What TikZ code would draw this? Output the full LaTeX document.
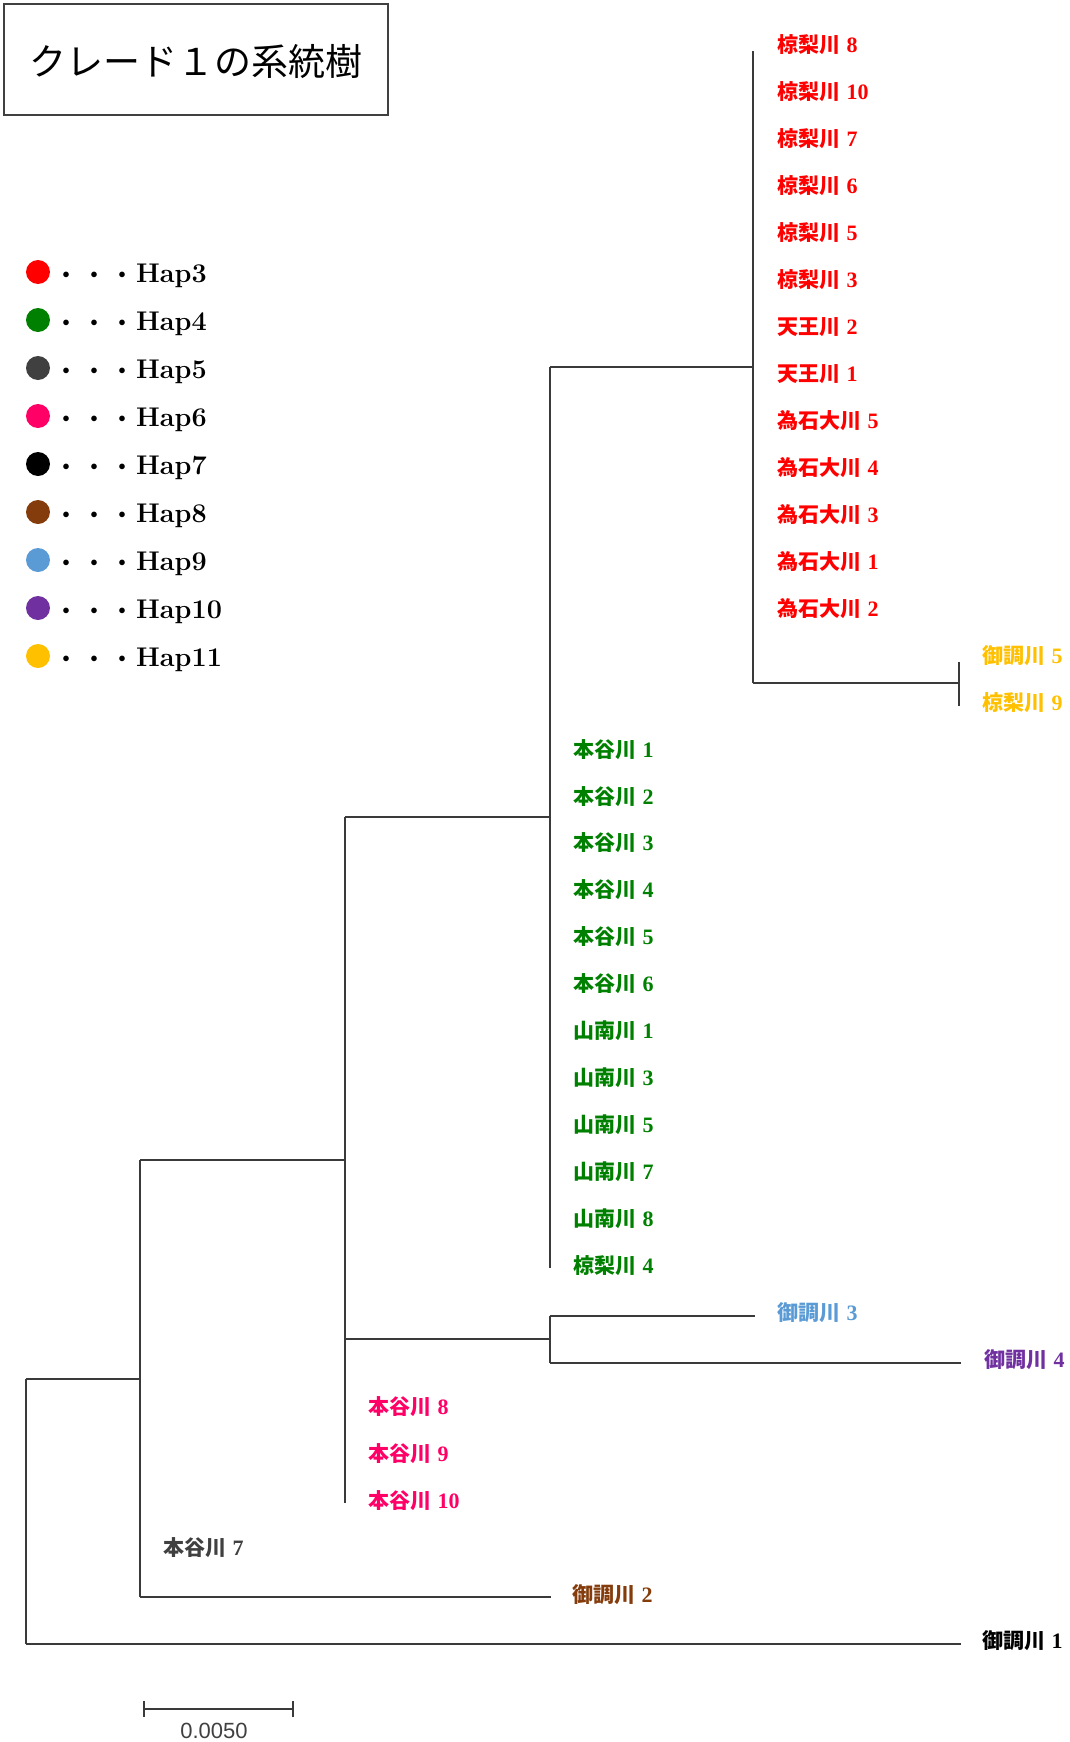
\documentclass[tikz,border=0pt]{standalone}
\usepackage{fontspec}
\newfontfamily\cjk{Noto Sans CJK JP}
\newfontfamily\sansf{Liberation Sans}
\newfontfamily\digf{Liberation Serif}
\definecolor{cRed}{HTML}{FF0000}
\definecolor{cGreen}{HTML}{008000}
\definecolor{cGray}{HTML}{404040}
\definecolor{cPink}{HTML}{FF0066}
\definecolor{cBrown}{HTML}{843C0C}
\definecolor{cBlue}{HTML}{5B9BD5}
\definecolor{cPurple}{HTML}{7030A0}
\definecolor{cGold}{HTML}{FFC000}
\definecolor{lineGray}{HTML}{3A3A3A}
% leaf label: color, name, x, index, river, number
\newcommand\leaf[6]{\node[leaflab,text=#1] (#2) at (#3,{53+46.94*#4}) {{\cjk\bfseries #5} {\digf\bfseries\fontsize{22}{22}\selectfont #6}};}
\newcommand\legdot{\makebox[28pt]{\cjk\fontsize{20}{20}\selectfont ・}}
% legend row: color, name, index, label
\newcommand\legrow[4]{%
  \fill[#1] (38,{272+48*#3}) circle (12);
  \node[leglab] (#2) at (52,{282+48*#3}) {\legdot\legdot\legdot #4};}
\begin{document}
\begin{tikzpicture}[x=1pt,y=-1pt,
  treeline/.style={draw=lineGray, line width=1.6pt},
  leaflab/.style={anchor=base west, inner sep=0pt, font=\fontsize{21}{21}\selectfont},
  leglab/.style={anchor=base west, inner sep=0pt, font=\fontsize{27}{27}\selectfont\bfseries}]
\useasboundingbox (0,0) rectangle (1070,1742);

% title
\node[draw=cGray, line width=1.4pt, minimum width=384pt, minimum height=111pt, inner sep=0pt] (title) at (196,59.5) {};
\node[font=\fontsize{37}{37}\selectfont\cjk] (titletext) at (196,62) {クレード１の系統樹};

% legend
\legrow{cRed}{h3}{0}{Hap3}
\legrow{cGreen}{h4}{1}{Hap4}
\legrow{cGray}{h5}{2}{Hap5}
\legrow{cPink}{h6}{3}{Hap6}
\legrow{black}{h7}{4}{Hap7}
\legrow{cBrown}{h8}{5}{Hap8}
\legrow{cBlue}{h9}{6}{Hap9}
\legrow{cPurple}{h10}{7}{Hap10}
\legrow{cGold}{h11}{8}{Hap11}

% internal nodes
\coordinate (R) at (753,367);
\coordinate (Y) at (959,683);
\coordinate (G) at (550,817);
\coordinate (P) at (550,1339);
\coordinate (H6) at (345,1160);
\coordinate (H5) at (140,1379);
\coordinate (t27) at (755,1316);
\coordinate (t28) at (961,1363);
\coordinate (t33) at (551,1597);
\coordinate (t34) at (961,1644);

% tree
\draw[treeline] (753,51) -- (753,683);
\draw[treeline] (753,683) -- (Y);
\draw[treeline] (959,662) -- (959,706);
\draw[treeline] (550,367) -- (550,1268);
\draw[treeline] (550,367) -- (R);
\draw[treeline] (550,1316) -- (550,1363);
\draw[treeline] (550,1316) -- (t27);
\draw[treeline] (550,1363) -- (t28);
\draw[treeline] (345,817) -- (345,1503);
\draw[treeline] (345,817) -- (G);
\draw[treeline] (345,1339) -- (P);
\draw[treeline] (140,1160) -- (140,1597);
\draw[treeline] (140,1160) -- (H6);
\draw[treeline] (140,1597) -- (t33);
\draw[treeline] (26,1379) -- (26,1644);
\draw[treeline] (26,1379) -- (H5);
\draw[treeline] (26,1644) -- (t34);

% red leaves
\leaf{cRed}{l0}{777}{0}{椋梨川}{8}
\leaf{cRed}{l1}{777}{1}{椋梨川}{10}
\leaf{cRed}{l2}{777}{2}{椋梨川}{7}
\leaf{cRed}{l3}{777}{3}{椋梨川}{6}
\leaf{cRed}{l4}{777}{4}{椋梨川}{5}
\leaf{cRed}{l5}{777}{5}{椋梨川}{3}
\leaf{cRed}{l6}{777}{6}{天王川}{2}
\leaf{cRed}{l7}{777}{7}{天王川}{1}
\leaf{cRed}{l8}{777}{8}{為石大川}{5}
\leaf{cRed}{l9}{777}{9}{為石大川}{4}
\leaf{cRed}{l10}{777}{10}{為石大川}{3}
\leaf{cRed}{l11}{777}{11}{為石大川}{1}
\leaf{cRed}{l12}{777}{12}{為石大川}{2}
% yellow
\leaf{cGold}{l13}{982}{13}{御調川}{5}
\leaf{cGold}{l14}{982}{14}{椋梨川}{9}
% green
\leaf{cGreen}{l15}{573}{15}{本谷川}{1}
\leaf{cGreen}{l16}{573}{16}{本谷川}{2}
\leaf{cGreen}{l17}{573}{17}{本谷川}{3}
\leaf{cGreen}{l18}{573}{18}{本谷川}{4}
\leaf{cGreen}{l19}{573}{19}{本谷川}{5}
\leaf{cGreen}{l20}{573}{20}{本谷川}{6}
\leaf{cGreen}{l21}{573}{21}{山南川}{1}
\leaf{cGreen}{l22}{573}{22}{山南川}{3}
\leaf{cGreen}{l23}{573}{23}{山南川}{5}
\leaf{cGreen}{l24}{573}{24}{山南川}{7}
\leaf{cGreen}{l25}{573}{25}{山南川}{8}
\leaf{cGreen}{l26}{573}{26}{椋梨川}{4}
% others
\leaf{cBlue}{l27}{777}{27}{御調川}{3}
\leaf{cPurple}{l28}{984}{28}{御調川}{4}
\leaf{cPink}{l29}{368}{29}{本谷川}{8}
\leaf{cPink}{l30}{368}{30}{本谷川}{9}
\leaf{cPink}{l31}{368}{31}{本谷川}{10}
\leaf{cGray}{l32}{163}{32}{本谷川}{7}
\leaf{cBrown}{l33}{572}{33}{御調川}{2}
\leaf{black}{l34}{982}{34}{御調川}{1}

% scale bar
\coordinate (sbL) at (144,1709);
\coordinate (sbR) at (293,1709);
\draw[treeline] (sbL) -- (sbR);
\draw[treeline] (144,1701) -- (144,1717);
\draw[treeline] (293,1701) -- (293,1717);
\node[font=\fontsize{22}{22}\selectfont\sansf, text=cGray, inner sep=0pt] (sblab) at (214,1731) {0.0050};
\end{tikzpicture}
\end{document}
